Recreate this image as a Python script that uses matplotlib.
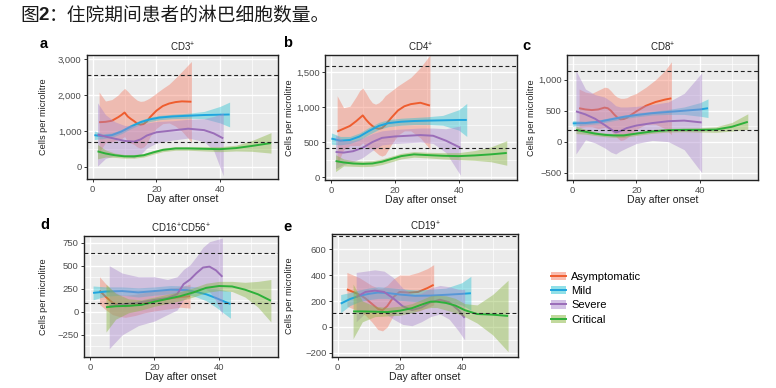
import matplotlib
matplotlib.use("Agg")
import matplotlib.pyplot as plt
from matplotlib.ticker import MultipleLocator, FuncFormatter, FixedLocator
from matplotlib.patches import Patch
from matplotlib.lines import Line2D

plt.rcParams['font.family'] = ['Liberation Sans', 'Noto Sans CJK SC', 'DejaVu Sans']
plt.rcParams['mathtext.default'] = 'regular'

# ---------------- data ----------------
groups = ["Asymptomatic", "Mild", "Severe", "Critical"]
panel_titles = ["CD3$^{+}$", "CD4$^{+}$", "CD8$^{+}$", "CD16$^{+}$CD56$^{+}$", "CD19$^{+}$"]
panel_letters = ["a", "b", "c", "d", "e"]
ref_lines = {"a": [2550, 700], "b": [1590, 415], "c": [1145, 195], "d": [642, 98], "e": [697, 105]}

# Panel a: CD3+
a_asym = dict(day=[2, 4, 6, 8, 9, 10, 11, 12, 13, 14, 15, 16, 17, 18, 20, 22, 24, 26, 28, 31],
              mid=[1240, 1250, 1280, 1380, 1440, 1510, 1400, 1330, 1270, 1200, 1170, 1190, 1260, 1380, 1560, 1690, 1760, 1800, 1820, 1810],
              hi=[2080, 1830, 1870, 2000, 2100, 2180, 2100, 2000, 1920, 1850, 1820, 1830, 1870, 1920, 2050, 2180, 2300, 2470, 2650, 2930],
              lo=[400, 670, 690, 760, 780, 840, 700, 660, 620, 550, 520, 550, 650, 840, 1070, 1200, 1220, 1130, 990, 690])
a_mild = dict(day=[0.5, 3, 6, 9, 12, 15, 18, 21, 25, 30, 35, 40, 43],
              mid=[880, 850, 880, 980, 1120, 1240, 1320, 1370, 1400, 1420, 1440, 1450, 1455],
              hi=[1000, 920, 940, 1040, 1180, 1300, 1380, 1430, 1460, 1490, 1540, 1680, 1800],
              lo=[760, 780, 820, 920, 1060, 1180, 1260, 1310, 1340, 1350, 1340, 1220, 1110])
a_sev = dict(day=[1.5, 4, 7, 10, 13, 15, 17, 20, 25, 30, 35, 38, 41],
             mid=[900, 840, 780, 720, 700, 760, 870, 960, 1010, 1060, 1020, 930, 790],
             hi=[1780, 1450, 1250, 1150, 1150, 1180, 1220, 1260, 1280, 1320, 1340, 1400, 1500],
             lo=[20, 230, 310, 290, 250, 340, 520, 660, 740, 800, 700, 450, -250])
a_crit = dict(day=[1.5, 4, 7, 10, 13, 16, 19, 22, 26, 30, 35, 40, 45, 50, 56],
              mid=[430, 370, 320, 290, 290, 320, 400, 470, 510, 510, 500, 490, 520, 580, 660],
              hi=[620, 470, 380, 340, 340, 370, 450, 520, 560, 560, 560, 560, 600, 730, 950],
              lo=[220, 270, 260, 240, 240, 270, 350, 420, 460, 460, 440, 420, 440, 430, 380])

# Panel b: CD4+
b_asym = dict(day=[2, 4, 6, 8, 9, 10, 11, 12, 13, 14, 15, 16, 17, 19, 21, 23, 25, 28, 31],
              mid=[650, 690, 730, 800, 840, 880, 820, 770, 730, 700, 690, 700, 740, 850, 950, 1010, 1040, 1060, 1020],
              hi=[1160, 990, 1010, 1150, 1230, 1270, 1200, 1120, 1060, 1040, 1060, 1100, 1160, 1230, 1300, 1360, 1420, 1560, 1740],
              lo=[180, 390, 450, 450, 450, 490, 440, 420, 400, 360, 320, 300, 320, 470, 600, 660, 660, 560, 400])
b_mild = dict(day=[0.2, 3, 6, 9, 12, 15, 18, 22, 26, 30, 35, 40, 42.5],
              mid=[550, 520, 530, 580, 660, 730, 770, 790, 800, 805, 810, 815, 815],
              hi=[630, 580, 580, 630, 710, 780, 820, 840, 850, 860, 880, 960, 1050],
              lo=[470, 460, 480, 530, 610, 680, 720, 740, 750, 750, 740, 670, 580])
b_sev = dict(day=[1.5, 4, 7, 10, 13, 16, 20, 24, 28, 32, 36, 40.5],
             mid=[360, 350, 370, 420, 500, 560, 580, 590, 600, 590, 520, 420],
             hi=[600, 520, 520, 560, 620, 660, 680, 690, 700, 700, 690, 730],
             lo=[120, 180, 220, 280, 380, 460, 480, 490, 500, 480, 350, 30])
b_crit = dict(day=[1.5, 4, 7, 10, 13, 16, 19, 22, 26, 30, 35, 40, 45, 50, 55],
              mid=[230, 210, 195, 190, 195, 220, 260, 300, 325, 315, 305, 300, 310, 325, 345],
              hi=[320, 260, 235, 230, 235, 260, 300, 340, 365, 355, 350, 350, 380, 430, 520],
              lo=[80, 160, 155, 150, 155, 180, 220, 260, 285, 275, 260, 250, 240, 220, 170])

# Panel c: CD8+
c_asym = dict(day=[2, 4, 6, 8, 10, 11, 12, 13, 14, 15, 16, 17, 18, 20, 23, 26, 29, 31],
              mid=[540, 520, 510, 520, 550, 540, 500, 440, 390, 360, 365, 385, 420, 490, 580, 640, 680, 700],
              hi=[850, 800, 780, 830, 880, 870, 820, 760, 720, 700, 700, 710, 740, 780, 880, 1000, 1150, 1290],
              lo=[230, 240, 240, 210, 230, 210, 180, 110, 60, 20, 30, 60, 100, 200, 280, 280, 210, 110])
c_mild = dict(day=[0, 4, 8, 12, 16, 20, 25, 30, 35, 40, 42.5],
              mid=[295, 300, 320, 360, 400, 430, 460, 480, 500, 520, 540],
              hi=[340, 330, 350, 390, 430, 460, 490, 520, 560, 630, 690],
              lo=[250, 270, 290, 330, 370, 400, 430, 440, 440, 410, 390])
c_sev = dict(day=[1, 4, 7, 10, 12, 13.5, 15, 17, 20, 25, 30, 35, 40.5],
             mid=[490, 440, 370, 270, 200, 150, 170, 220, 260, 300, 330, 340, 310],
             hi=[1150, 850, 760, 720, 650, 580, 560, 560, 570, 600, 640, 780, 1110],
             lo=[-200, 30, -20, -100, -170, -200, -150, -100, -30, 20, 0, -130, -500])
c_crit = dict(day=[1, 4, 7, 10, 13, 16, 20, 25, 30, 35, 40, 45, 50, 55],
              mid=[190, 160, 130, 110, 100, 100, 130, 165, 185, 190, 190, 195, 240, 320],
              hi=[250, 200, 160, 140, 130, 130, 160, 195, 215, 220, 225, 240, 310, 450],
              lo=[130, 120, 100, 80, 70, 70, 100, 135, 155, 160, 155, 150, 170, 200])

# Panel d: CD16+CD56+
d_asym = dict(day=[3, 5, 7, 9, 11, 14, 17, 20, 24, 28, 31],
              mid=[230, 160, 100, 70, 60, 75, 100, 120, 140, 160, 170],
              hi=[380, 300, 230, 190, 180, 190, 210, 230, 250, 270, 300],
              lo=[80, 20, -30, -50, -60, -40, -10, 10, 30, 50, 40])
d_mild = dict(day=[1, 5, 10, 15, 20, 25, 30, 33, 36, 39, 42, 43.5],
              mid=[205, 220, 225, 210, 225, 240, 235, 215, 190, 150, 105, 85],
              hi=[280, 270, 270, 260, 270, 285, 280, 270, 260, 250, 230, 220],
              lo=[130, 170, 180, 160, 180, 195, 190, 160, 120, 50, -30, -70])
d_sev = dict(day=[6, 10, 15, 20, 24, 27, 29, 31, 33, 35, 37, 39, 41],
             mid=[60, 80, 100, 130, 150, 190, 300, 350, 420, 480, 490, 450, 380],
             hi=[500, 420, 380, 380, 350, 380, 460, 510, 600, 700, 760, 780, 800],
             lo=[-400, -250, -150, -100, -30, 20, 130, 180, 230, 260, 220, 120, -30])
d_crit = dict(day=[5, 8, 12, 16, 20, 24, 28, 32, 36, 40, 44, 48, 52, 56],
              mid=[50, 60, 65, 75, 110, 140, 170, 210, 260, 280, 275, 240, 190, 120],
              hi=[300, 200, 140, 130, 160, 190, 220, 260, 310, 330, 330, 320, 330, 350],
              lo=[-220, -80, -10, 20, 60, 90, 120, 160, 210, 230, 220, 160, 50, -110])

# Panel e: CD19+
e_asym = dict(day=[3, 5, 7, 9, 11, 13, 14.5, 16, 18, 20, 23, 26, 29, 31],
              mid=[290, 270, 250, 220, 180, 140, 130, 160, 230, 270, 265, 270, 300, 325],
              hi=[420, 400, 380, 350, 320, 300, 300, 320, 370, 400, 400, 420, 450, 480],
              lo=[160, 140, 120, 90, 40, -20, -30, 0, 90, 140, 130, 120, 150, 170])
e_mild = dict(day=[1, 4, 7, 10, 13, 16, 20, 25, 30, 35, 40, 43],
              mid=[180, 215, 240, 255, 265, 262, 250, 240, 242, 248, 255, 260],
              hi=[250, 265, 285, 300, 310, 305, 295, 285, 290, 300, 340, 390],
              lo=[110, 165, 195, 210, 220, 220, 205, 195, 195, 195, 170, 130])
e_sev = dict(day=[6, 9, 12, 15, 18, 21, 24, 27, 30, 33, 36, 39, 41],
             mid=[230, 270, 280, 270, 220, 160, 130, 150, 190, 210, 190, 130, 70],
             hi=[420, 430, 440, 430, 380, 300, 250, 260, 300, 320, 310, 290, 290],
             lo=[40, 110, 120, 110, 60, 20, 10, 40, 80, 100, 60, -30, -100])
e_crit = dict(day=[5, 8, 12, 16, 20, 24, 28, 30, 32, 35, 38, 41, 45, 50, 55],
              mid=[120, 120, 118, 115, 125, 145, 180, 195, 195, 185, 165, 130, 100, 95, 85],
              hi=[330, 200, 160, 150, 160, 180, 220, 240, 245, 240, 220, 180, 170, 250, 360],
              lo=[-90, 40, 80, 85, 90, 110, 140, 150, 150, 130, 110, 80, 30, -60, -190])

panel_series = {
    "a": [a_asym, a_mild, a_sev, a_crit],
    "b": [b_asym, b_mild, b_sev, b_crit],
    "c": [c_asym, c_mild, c_sev, c_crit],
    "d": [d_asym, d_mild, d_sev, d_crit],
    "e": [e_asym, e_mild, e_sev, e_crit],
}
y_ticks = {"a": [0, 1000, 2000, 3000], "b": [0, 500, 1000, 1500], "c": [-500, 0, 500, 1000],
           "d": [-250, 0, 250, 500, 750], "e": [-200, 0, 200, 400, 600]}
x_ticks = [0, 20, 40]

# ---------------- style ----------------
line_colors = ["#EE5D2F", "#1FA5DE", "#9A6DB8", "#2DB03A"]
fill_colors = ["#F47A62", "#25C2D2", "#A985CC", "#86B43C"]
fill_alpha = 0.42

W, H = 776, 388
# pixel boxes: left, right, top, bottom
boxes = {"a": (87, 278, 55, 179), "b": (325, 517, 55, 180), "c": (567, 758, 55, 180),
         "d": (84, 278, 236, 357), "e": (332, 518, 234, 357)}
ylims = {"a": (-340, 3110), "b": (-40, 1740), "c": (-620, 1400), "d": (-490, 822), "e": (-231, 716)}
xlim = (-1.8, 58.2)
letter_pos = {"a": (40, 44), "b": (283, 43), "c": (522, 46), "d": (40, 225), "e": (283, 227)}
ylabel_x = {"a": 44, "b": 290, "c": 531, "d": 44, "e": 290}


def fmt(v, pos):
    s = f"{int(round(v)):,}"
    return s.replace("-", "\u2212")


fig = plt.figure(figsize=(W / 100, H / 100), dpi=100)
fig.patch.set_facecolor("white")

for i, key in enumerate(["a", "b", "c", "d", "e"]):
    l, r, t, b = boxes[key]
    ax = fig.add_axes([l / W, 1 - b / H, (r - l) / W, (b - t) / H])
    ax.set_facecolor("#EBEBEB")
    ax.set_xlim(*xlim)
    ax.set_ylim(*ylims[key])
    ax.xaxis.set_major_locator(FixedLocator(x_ticks))
    ax.xaxis.set_minor_locator(MultipleLocator(10))
    yt = y_ticks[key]
    ax.yaxis.set_major_locator(FixedLocator(yt))
    ax.yaxis.set_minor_locator(MultipleLocator((yt[1] - yt[0]) / 2))
    ax.yaxis.set_major_formatter(FuncFormatter(fmt))
    ax.grid(which="major", color="white", lw=1.0, zorder=0)
    ax.grid(which="minor", color="white", lw=0.5, zorder=0)
    ax.set_axisbelow(True)
    ax.tick_params(which="major", length=2.5, width=0.7, color="#333333",
                   labelsize=6.8, labelcolor="#4D4D4D", pad=1.5)
    ax.tick_params(which="minor", length=0)
    for sp in ax.spines.values():
        sp.set_color("#222222")
        sp.set_linewidth(1.0)
    z = 2
    for gi, s in enumerate(panel_series[key]):
        ax.fill_between(s["day"], s["lo"], s["hi"], color=fill_colors[gi], alpha=fill_alpha,
                        lw=0, zorder=z)
        ax.plot(s["day"], s["mid"], color=line_colors[gi], lw=1.4, zorder=z + 1,
                solid_capstyle="butt")
        z += 2
    for yv in ref_lines[key]:
        ax.axhline(yv, color="#222222", lw=0.8, ls=(0, (3.5, 2.5)), zorder=20)
    ax.set_title(panel_titles[i], fontsize=7, pad=2.5, color="#222222")
    ax.set_xlabel("Day after onset", fontsize=7.6, labelpad=0.3, color="#222222")
    fig.text(ylabel_x[key] / W, 1 - ((t + b) / 2) / H, "Cells per microlitre", rotation=90,
             ha="center", va="center", fontsize=6.6, color="#222222")
    lx, ly = letter_pos[key]
    fig.text(lx / W, 1 - ly / H, panel_letters[i], fontsize=10.5, fontweight="bold",
             ha="left", va="center", color="black")

# legend
handles = [(Patch(facecolor=fill_colors[i], alpha=0.5, edgecolor="none"),
            Line2D([], [], color=line_colors[i], lw=1.4)) for i in range(4)]
fig.legend(handles, groups, loc="upper left", bbox_to_anchor=(551 / W, 1 - 272 / H),
           frameon=False, fontsize=8, handlelength=1.35, handleheight=0.75,
           handletextpad=0.45, labelspacing=0.38, borderaxespad=0, borderpad=0)

# title: "图" + bold "2" + rest
cjk = ["Noto Sans CJK SC", "DejaVu Sans"]
ty = 1 - 15 / H
fs_title = 13.5
fig.canvas.draw()
renderer = fig.canvas.get_renderer()
t1 = fig.text(20 / W, ty, "图", fontsize=fs_title, family=cjk, ha="left", va="center",
              color="#1A1A1A")
x1 = t1.get_window_extent(renderer).x1
t2 = fig.text(x1 / W, ty, "2", fontsize=fs_title, family=["Liberation Sans"], fontweight="bold",
              ha="left", va="center", color="#1A1A1A")
x2 = t2.get_window_extent(renderer).x1
fig.text(x2 / W, ty, "：住院期间患者的淋巴细胞数量。", fontsize=fs_title, family=cjk,
         ha="left", va="center", color="#1A1A1A")

fig.savefig("out.png", dpi=100)
